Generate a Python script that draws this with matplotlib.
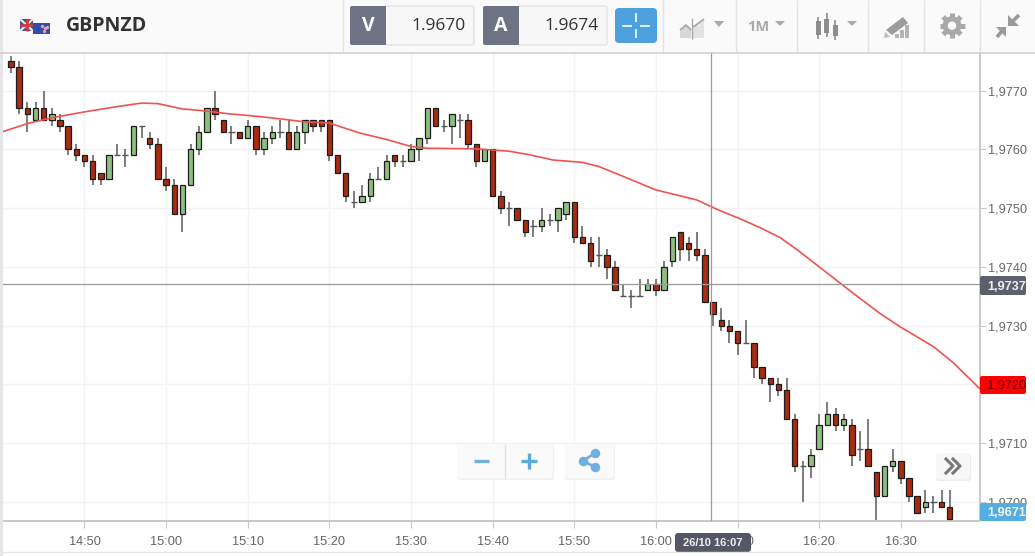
import matplotlib
matplotlib.use('Agg')
import matplotlib.pyplot as plt
import numpy as np
from matplotlib.patches import Rectangle, FancyBboxPatch, Circle, Polygon

# one candle per minute from 14:41, prices as 1.9 + v/10000
opens = [775,774,767,765,767,765,765,764,760,759,758,756,755,759,759,759,764,762,761,755,
         754,749,754,760,763,767,765,763,763,762,764,760,762,763,763,760,763,765,765,765,
         759,756,751,751,752,755,755,759,758,758,760,762,767,764,764,765,765,761,758,760,
         752,750,750,748,747,747,748,748,749,751,745,744,742,742,740,735,735,735,736,737,
         736,741,746,744,743,742,734,731,730,729,727,727,723,721,720,719,714,706,706,709,
         713,715,713,713,709,709,705,701,706,707,704,701,699,700,700,699]
highs = [776,775,768,768,770,767,766,764,761,759,759,756,759,761,760,764,764,763,762,757,
         755,754,761,764,767,770,765,764,763,765,764,763,764,765,765,764,765,765,765,765,
         759,756,753,754,756,757,759,759,759,761,762,767,767,765,766,766,766,761,760,760,
         753,751,750,748,748,750,749,750,751,751,747,745,745,743,741,737,736,738,738,738,
         741,745,746,745,746,743,734,733,731,729,731,727,723,721,721,721,715,707,709,715,
         717,716,715,714,712,714,705,706,709,707,704,701,702,701,702,702]
lows = [773,766,763,765,765,764,763,759,758,757,754,754,755,759,757,759,762,760,755,753,
        749,746,754,759,763,765,763,761,762,762,759,759,761,762,760,760,761,763,763,758,
        756,751,750,751,751,755,755,757,757,758,758,761,764,763,761,762,760,757,758,752,
        749,747,748,745,745,746,747,746,748,744,744,740,740,738,736,735,733,735,736,735,
        736,740,741,741,741,734,730,729,727,725,727,721,720,717,718,714,705,700,704,709,
        713,712,712,706,707,706,696,701,705,703,700,698,698,698,699,696]
closes = [774,767,766,767,765,766,764,760,759,758,755,755,759,759,759,764,764,761,755,754,
          749,754,760,763,767,766,763,763,762,764,760,762,763,763,760,763,765,764,764,759,
          756,752,751,752,755,755,758,758,758,760,762,767,764,764,766,765,761,758,760,752,
          750,750,748,746,747,748,748,750,751,745,744,741,742,740,736,735,735,735,737,736,
          740,745,743,743,742,734,732,730,729,727,727,723,721,720,719,714,706,706,708,713,
          715,713,714,708,709,706,701,706,707,704,701,698,700,700,699,697]

# red average line, read at a few minutes along the axis
ma_minutes = [-1.3,2,5,9,13,16,18,21,23.5,26.5,30.5,33,36,39,42.7,46,49,51,57,61,63.5,66.4,70,72,
              75,79,84,86.8,89.3,91.7,94.2,96.6,99,102.8,106.4,108.9,113,115.4,118.7]
ma_values = [762.9,764.4,765.4,766.4,767.3,767.9,767.8,766.9,766.6,766.1,765.6,765.2,764.7,764.5,
             762.8,761.7,760.5,760.2,760.1,759.7,759.1,758.2,757.8,757.1,755.4,753.1,751.4,749.6,
             748.2,746.7,745.0,742.6,740.0,735.9,732.1,729.8,726.4,723.7,719.2]

time_ticks = [9,19,29,39,49,59,69,79,89,99,109]
time_labels = ['14:50','15:00','15:10','15:20','15:30','15:40','15:50','16:00','16:10','16:20','16:30']
price_ticks = [1.9700,1.9710,1.9720,1.9730,1.9740,1.9750,1.9760,1.9770]

plt.rcParams['font.family'] = ['Liberation Sans', 'DejaVu Sans']

def price(v):
    return 1.9 + np.array(v) / 10000.0

RED = '#a82c10'
GREEN = '#8fbf80'
GRID = '#f3f3f3'
AXIS = '#c8c8c8'
TEXT = '#666666'
ICON = '#a9a9a9'

fig = plt.figure(figsize=(10.35, 5.56), dpi=100, facecolor='white')
ax = fig.add_axes([0, 35 / 556, 980 / 1035, 469 / 556])
ax.set_xlim(-1.35, 118.7)
ax.set_ylim(price(696.7), price(776.6))

o, h, l, c = price(opens), price(highs), price(lows), price(closes)
x = np.arange(len(opens))

ax.vlines(x, l, h, color='#5a5a5a', lw=1.1, zorder=2)
up = c > o
down = c < o
flat = c == o
ax.bar(x[down], (o - c)[down], bottom=c[down], width=0.66, color=RED, edgecolor='#1c1c1c', lw=0.9, zorder=3)
ax.bar(x[up], (c - o)[up], bottom=o[up], width=0.66, color=GREEN, edgecolor='#1c1c1c', lw=0.9, zorder=3)
ax.hlines(o[flat], x[flat] - 0.38, x[flat] + 0.38, color='#555555', lw=1, zorder=3)

ax.plot(ma_minutes, price(ma_values), color='#ef5350', lw=1.2, zorder=4)

ax.axhline(price(737), color='#9a9a9a', lw=0.9, zorder=5)
ax.axvline(85.8, color='#9a9a9a', lw=0.9, zorder=5)

ax.set_xticks(time_ticks)
ax.set_xticklabels(time_labels)
ax.yaxis.tick_right()
ax.set_yticks(price_ticks)
# 1,9720 is shown by the red tag instead
ax.set_yticklabels(['' if abs(p - 1.972) < 1e-6 else ('%.4f' % p).replace('.', ',') for p in price_ticks])
ax.tick_params(axis='x', length=5, color=AXIS, labelcolor=TEXT, labelsize=9.2, pad=6)
ax.tick_params(axis='y', length=4, color=AXIS, labelcolor=TEXT, labelsize=9.2, pad=2)
ax.grid(True, color=GRID, lw=1)
ax.set_axisbelow(True)
for s in ['top', 'left']:
    ax.spines[s].set_visible(False)
for s in ['right', 'bottom']:
    ax.spines[s].set_color(AXIS)
    ax.spines[s].set_linewidth(1.4)

# everything around the chart goes in an overlay that works in pixels
ui = fig.add_axes([0, 0, 1, 1])
ui.set_xlim(0, 1035)
ui.set_ylim(556, 0)
ui.axis('off')
ui.patch.set_alpha(0)

def box(x0, y0, w, h, fc, ec='none', r=2, lw=1, zorder=6):
    p = FancyBboxPatch((x0 + r, y0 + r), w - 2 * r, h - 2 * r, boxstyle='round,pad=%f,rounding_size=%f' % (r, r),
                       fc=fc, ec=ec, lw=lw, zorder=zorder)
    ui.add_patch(p)

def line(xs, ys, color=ICON, lw=1, zorder=7):
    ui.plot(xs, ys, color=color, lw=lw, zorder=zorder, solid_capstyle='butt')

# header
ui.add_patch(Rectangle((0, 0), 1035, 52, fc='#fafafa', ec='none', zorder=5))
line([0, 1035], [52.5, 52.5], '#cfcfcf', 1.2)
ui.add_patch(Rectangle((0, 0), 2.5, 556, fc='#e6e6e6', ec='none', zorder=5))
for sx in [343, 663, 736, 797, 868, 924, 980]:
    line([sx, sx], [0, 52], '#e2e2e2', 1)
line([0, 1035], [552, 552], '#e6e6e6', 1)

# flags
ui.add_patch(Rectangle((20, 19), 13, 12, fc='#3b4fa0', ec='none', zorder=7))
line([20, 33], [19, 31], '#e8e8f0', 1.6)
line([20, 33], [31, 19], '#e8e8f0', 1.6)
line([26.5, 26.5], [19, 31], '#d43a3a', 2)
line([20, 33], [25, 25], '#d43a3a', 2)
ui.add_patch(Rectangle((33, 23), 17, 11, fc='#2f4fa8', ec='none', zorder=7))
ui.scatter([42, 45, 47, 44], [26, 28, 27, 31], s=2, color='#e8a0a0', zorder=8)

ui.text(66, 26, 'GBPNZD', family='Open Sans', weight='bold', fontsize=14, color='#333333', va='center', zorder=8)

# bid and ask boxes
box(385, 6, 89, 39, '#f7f7f7', '#e4e4e4')
box(350, 6, 36, 39, '#6d7285')
ui.add_patch(Rectangle((378, 6), 8, 39, fc='#6d7285', ec='none', zorder=6))
ui.text(368, 26, 'V', family='Open Sans', weight='bold', fontsize=14, color='white', ha='center', va='center', zorder=8)
ui.text(466, 26, '1.9670', family='Open Sans', fontsize=12.5, color='#333333', ha='right', va='center', zorder=8)
box(518, 6, 89, 39, '#f7f7f7', '#e4e4e4')
box(483, 6, 36, 39, '#6d7285')
ui.add_patch(Rectangle((511, 6), 8, 39, fc='#6d7285', ec='none', zorder=6))
ui.text(501, 26, 'A', family='Open Sans', weight='bold', fontsize=14, color='white', ha='center', va='center', zorder=8)
ui.text(599, 26, '1.9674', family='Open Sans', fontsize=12.5, color='#333333', ha='right', va='center', zorder=8)

# crosshair button
box(615, 8, 42, 35, '#4ca1de', r=4)
line([622, 632], [25.5, 25.5], 'white', 1.2)
line([640, 650], [25.5, 25.5], 'white', 1.2)
line([635.5, 635.5], [13, 22], 'white', 1.2)
line([635.5, 635.5], [29, 38], 'white', 1.2)

# chart type icon
ui.add_patch(Polygon([(680, 38), (680, 29), (686, 25), (691, 29), (691, 38)], fc='#d8d8d8', ec='none', zorder=7))
ui.add_patch(Polygon([(693, 38), (693, 25), (699, 26), (704, 20), (704, 38)], fc='#e2e2e2', ec='none', zorder=7))
line([680, 686, 691], [30, 25, 30], ICON, 1.3)
line([693, 699, 704], [27, 23, 19], ICON, 1.3)
line([691.5, 691.5], [18, 39], ICON, 1)
ui.add_patch(Polygon([(714, 21), (724, 21), (719, 27)], fc=ICON, ec='none', zorder=7))

ui.text(747, 27, '1M', family='Open Sans', weight='bold', fontsize=10.5, color=ICON, va='center', zorder=8)
ui.add_patch(Polygon([(775, 21), (785, 21), (780, 26)], fc=ICON, ec='none', zorder=7))

# candle icon
for cx, y0, y1, b0, b1 in [(818, 17, 39, 21, 35), (826.5, 13, 37, 19, 33), (835, 20, 40, 25, 36)]:
    line([cx, cx], [y0, y1], '#8c8c8c', 1.2)
    ui.add_patch(Rectangle((cx - 2.5, b0), 5, b1 - b0, fc='#8c8c8c', ec='none', zorder=8))
ui.add_patch(Polygon([(847, 21), (857, 21), (852, 26)], fc=ICON, ec='none', zorder=7))

# pencil icon
ui.add_patch(Polygon([(886, 30), (903, 17), (908, 23), (892, 35)], fc='#9c9c9c', ec='none', zorder=7))
ui.add_patch(Polygon([(885, 32), (890, 37), (884, 38)], fc='#bdbdbd', ec='none', zorder=7))
for bx, by in [(895, 34), (900, 30), (905, 25)]:
    ui.add_patch(Rectangle((bx, by), 3.6, 38 - by, fc='#b4b4b4', ec='none', zorder=7))

# gear icon
for a in np.arange(8) * np.pi / 4:
    line([952, 952 + 12.5 * np.cos(a)], [25.7, 25.7 + 12.5 * np.sin(a)], ICON, 3.6)
ui.add_patch(Circle((952, 25.7), 9.5, fc=ICON, ec='none', zorder=8))
ui.add_patch(Circle((952, 25.7), 4.2, fc='#fafafa', ec='none', zorder=9))

# compress arrows, pointing at the middle
ui.add_patch(Polygon([(1008, 15), (1008, 26), (1019, 26)], fc='#9a9a9a', ec='none', zorder=7))
line([1012, 1019], [22, 15], '#9a9a9a', 2.6)
ui.add_patch(Polygon([(996, 27), (1006, 27), (1006, 37)], fc='#9a9a9a', ec='none', zorder=7))
line([1002, 997], [31, 37], '#9a9a9a', 2.6)

# zoom and share controls
box(457, 445, 97, 35, '#f0f0f0', r=3, zorder=5)
box(457, 444, 96, 34.5, '#fafafa', r=3, zorder=6)
line([505, 505], [444, 478], '#e0e0e0', 1)
line([474, 489], [461, 461], '#6fb1dc', 2.4)
line([521, 537], [461, 461], '#5ea9da', 2.4)
line([529, 529], [453, 469], '#5ea9da', 2.4)
box(565, 445, 50, 35, '#f0f0f0', r=3, zorder=5)
box(565, 444, 49, 34.5, '#fafafa', r=3, zorder=6)
ui.plot([595, 583, 595], [453, 461, 467], color='#6fb1dc', lw=2, zorder=7)
ui.scatter([595, 583, 595], [453, 461, 467], s=34, color='#6fb1dc', zorder=8)

# scroll button
box(936, 454, 35, 27, '#ececec', r=3, zorder=5)
box(936, 453, 34, 26.5, '#f7f7f7', r=3, zorder=6)
ui.plot([946, 953, 946], [459, 466, 473], color='#777777', lw=2.2, zorder=7)
ui.plot([953, 960, 953], [459, 466, 473], color='#777777', lw=2.2, zorder=7)

# price tags on the right axis
box(980, 276, 46, 19, '#5c5f6c', r=2)
ui.text(987, 286.5, '1,9737', fontsize=9.2, weight='bold', color='#f0f0f0', ha='left', va='center', zorder=8)
box(980, 376, 46, 18, '#ff0000', r=2)
ui.text(987, 385.5, '1,9720', fontsize=9.2, color='#6a0000', ha='left', va='center', zorder=8)
box(980, 503, 46, 18, '#55aee0', r=2)
ui.text(987, 512.5, '1,9671', fontsize=9.2, weight='bold', color='#f4f4f4', ha='left', va='center', zorder=8)

# crosshair time tag
box(675, 533, 76, 19, '#555766', r=3)
ui.text(713, 542.5, '26/10 16:07', fontsize=8, weight='bold', color='#f0f0f0', ha='center', va='center', zorder=8)

fig.savefig('out.png', dpi=100)
